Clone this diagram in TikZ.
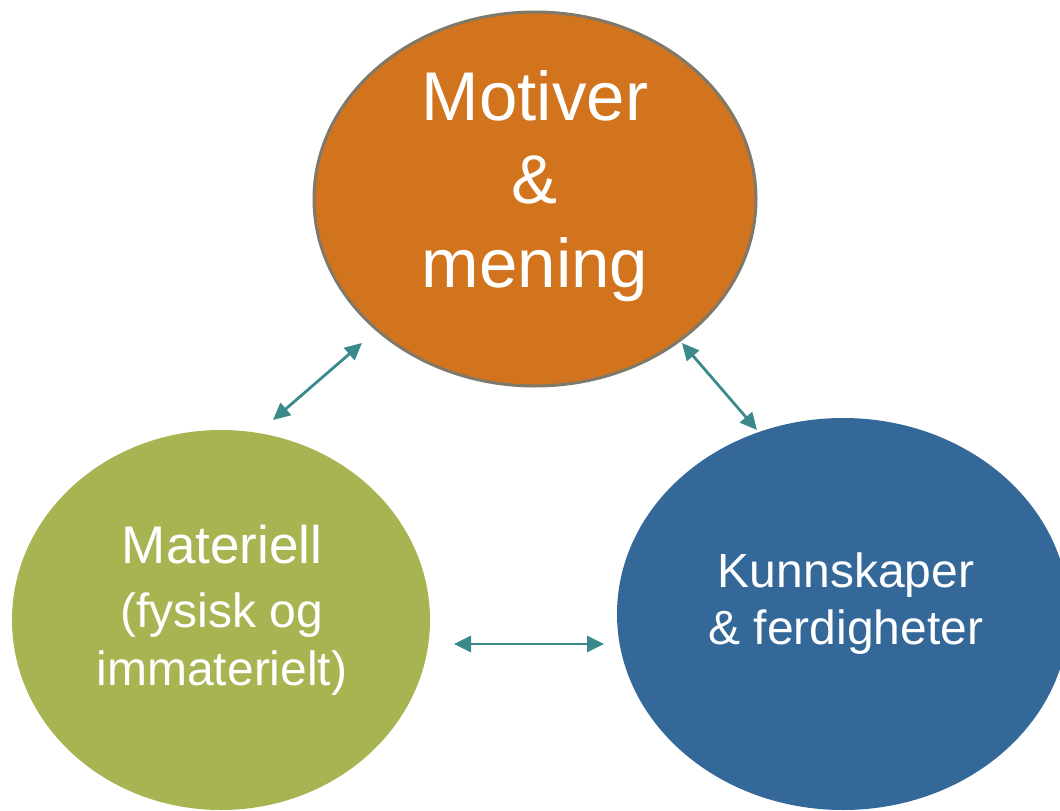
\documentclass[tikz,border=0pt]{standalone}
\usepackage{fontspec}
\setmainfont{Liberation Sans}
\usetikzlibrary{shapes.geometric,arrows.meta}
\definecolor{orangefill}{RGB}{210,116,30}
\definecolor{orangeline}{RGB}{128,120,104}
\definecolor{greenfill}{RGB}{168,180,82}
\definecolor{bluefill}{RGB}{52,104,153}
\definecolor{teal}{RGB}{58,138,140}
\begin{document}
\begin{tikzpicture}[x=1pt,y=-1pt,
  bubble/.style={ellipse, inner sep=0pt, outer sep=0pt},
  bubbletext/.style={text=white, align=center, inner sep=0pt},
  link/.style={draw=teal, line width=2.8pt, {Triangle[length=17pt,width=16pt]}-{Triangle[length=17pt,width=16pt]}}]
\useasboundingbox (0,0) rectangle (1060,811);
\clip (0,0) rectangle (1060,811);
\node[bubble, fill=greenfill, minimum width=418pt, minimum height=380pt] (mat) at (221,620) {};
\node[bubble, fill=bluefill, minimum width=452pt, minimum height=392pt] (kunn) at (843,614) {};
\node[bubble, fill=orangefill, draw=orangeline, line width=3pt, minimum width=442pt, minimum height=374pt] (motiv) at (535,199) {};
\node[bubbletext, font=\fontsize{69}{83.5}\selectfont] (motivtext) at (535,186) {Motiver\\\&\\mening};
\node[bubbletext, font=\fontsize{48}{58}\selectfont] (mattext) at (222,610) {{\fontsize{53}{58}\selectfont Materiell}\\[6pt](fysisk og\\immaterielt)};
\node[bubbletext, font=\fontsize{48}{57}\selectfont] (kunntext) at (846,604) {Kunnskaper\\\& ferdigheter};
\coordinate (a1) at (273,420);
\coordinate (a2) at (362,343);
\coordinate (b1) at (682,343);
\coordinate (b2) at (757,430);
\coordinate (c1) at (454,644);
\coordinate (c2) at (604,644);
\draw[link] (a1) -- (a2);
\draw[link] (b1) -- (b2);
\draw[link] (c1) -- (c2);
\end{tikzpicture}
\end{document}
